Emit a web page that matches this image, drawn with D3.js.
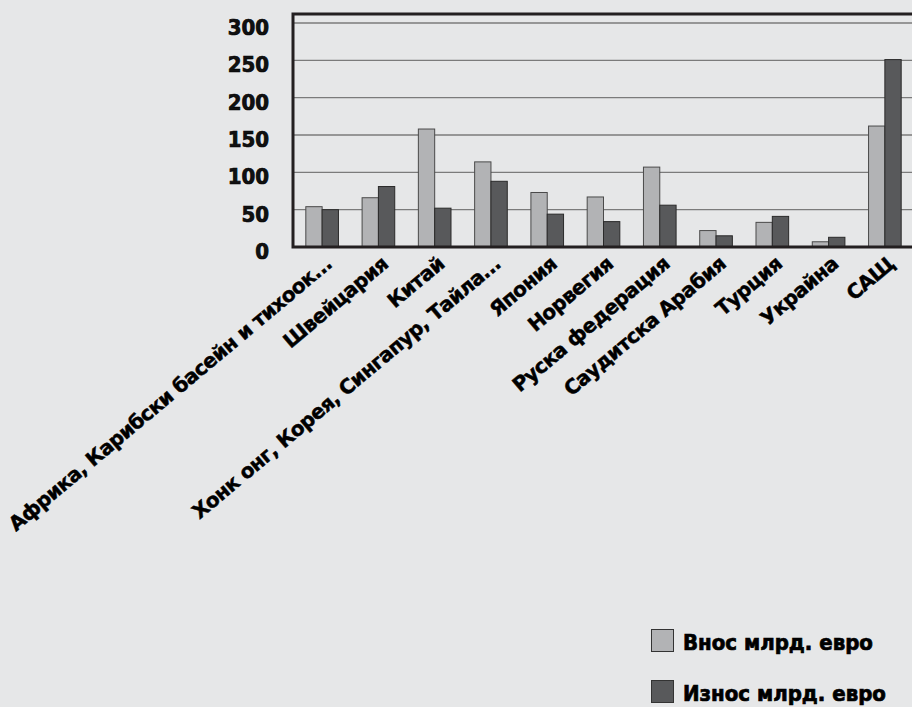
<!DOCTYPE html>
<html>
<head>
<meta charset="utf-8">
<script src="https://cdn.jsdelivr.net/npm/d3@7"></script>
<style>
  html, body { margin: 0; padding: 0; background: #e6e7e8; }
  svg { display: block; }
  .ylab, .legend text { font-family: "DejaVu Sans Condensed", "DejaVu Sans", sans-serif; font-stretch: condensed; font-weight: bold; stroke: #000; stroke-width: 0.7px; }
  .xlab { font-family: "DejaVu Sans", sans-serif; font-weight: bold; letter-spacing: -0.6px; stroke: #000; stroke-width: 0.5px; }
</style>
</head>
<body>
<div id="chart"></div>
<script>
const categories = ["Африка, Карибски басейн и тихоок...", "Швейцария", "Китай",
    "Хонк онг, Корея, Сингапур, Тайла...", "Япония", "Норвегия", "Руска федерация",
    "Саудитска Арабия", "Турция", "Украйна", "САЩ"];
const vnos = [54, 66, 158, 114, 73, 67, 107, 22, 33, 7, 162];
const iznos = [50, 81, 52, 88, 44, 34, 56, 15, 41, 13, 251];
const seriesNames = ["Внос млрд. евро", "Износ млрд. евро"];
const yTicks = [0, 50, 100, 150, 200, 250, 300];

const width = 912, height = 707;
const plot = {left: 294, right: 913, top: 14, bottom: 247};
const colors = ["#b2b3b5", "#58595b"];
const strokes = ["#4a4a4a", "#2a2a2a"];

let svg = d3.select("#chart")
    .append("svg")
    .attr("width", width)
    .attr("height", height);

let x0 = d3.scaleBand()
    .domain(categories)
    .range([plot.left, plot.right])
    .paddingInner(0.42)
    .paddingOuter(0.21);

let x1 = d3.scaleBand()
    .domain([0, 1])
    .range([0, x0.bandwidth()]);

let y = d3.scaleLinear()
    .domain([0, 300])
    .range([plot.bottom, 23]);

// grid lines
svg.append("g")
    .selectAll("line")
    .data(yTicks.filter(d => d > 0))
    .enter().append("line")
    .attr("x1", plot.left)
    .attr("x2", width)
    .attr("y1", d => y(d))
    .attr("y2", d => y(d))
    .attr("stroke", "#7b7b7b")
    .attr("stroke-width", 1.3);

// y labels
svg.append("g")
    .selectAll("text")
    .data(yTicks)
    .enter().append("text")
    .attr("class", "ylab")
    .attr("x", 269)
    .attr("y", d => y(d) + 4)
    .attr("dy", "0.36em")
    .attr("text-anchor", "end")
    .attr("font-size", 22)
    .attr("fill", "#111")
    .text(d => d);

// bars
let rows = categories.map((c, i) => ({cat: c, vals: [vnos[i], iznos[i]]}));
let groups = svg.append("g")
    .selectAll("g")
    .data(rows)
    .enter().append("g")
    .attr("transform", d => `translate(${x0(d.cat)}, 0)`);

groups.selectAll("rect")
    .data(d => d.vals.map((v, k) => ({k: k, v: v})))
    .enter().append("rect")
    .attr("x", d => x1(d.k))
    .attr("y", d => y(d.v))
    .attr("width", x1.bandwidth())
    .attr("height", d => y(0) - y(d.v))
    .attr("fill", d => colors[d.k])
    .attr("stroke", d => strokes[d.k])
    .attr("stroke-width", 1);

// frame: top, left, bottom
svg.append("path")
    .attr("d", `M${width + 5},${plot.top} H${plot.left - 1} V${plot.bottom} H${width + 5}`)
    .attr("fill", "none")
    .attr("stroke", "#231f20")
    .attr("stroke-width", 3);

// x labels
svg.append("g")
    .selectAll("text")
    .data(categories)
    .enter().append("text")
    .attr("class", "xlab")
    .attr("text-anchor", "end")
    .attr("font-size", 20)
    .attr("fill", "#000")
    .attr("transform", d => `translate(${x0(d) + x0.bandwidth() / 2 + 11}, 266) rotate(-40)`)
    .text(d => d);

// legend
let legend = svg.append("g").attr("class", "legend");
seriesNames.forEach((name, k) => {
    let ly = 629 + k * 51;
    legend.append("rect")
        .attr("x", 651.5)
        .attr("y", ly + 0.5)
        .attr("width", 22)
        .attr("height", 22)
        .attr("fill", colors[k])
        .attr("stroke", "#333")
        .attr("stroke-width", 1);
    legend.append("text")
        .attr("x", 683)
        .attr("y", ly + 21)
        .attr("font-size", 22)
        .attr("fill", "#000")
        .text(name);
});
</script>
</body>
</html>
